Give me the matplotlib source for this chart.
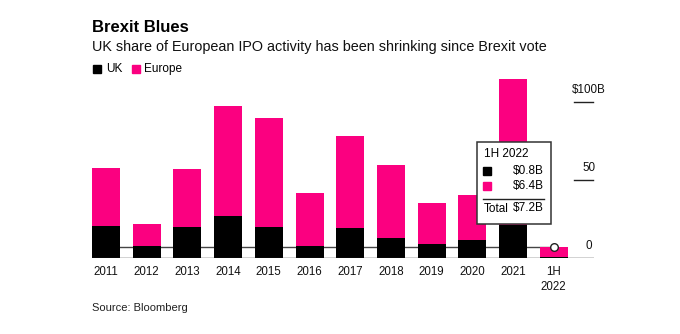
import numpy as np
from matplotlib import pyplot as pl
from matplotlib.patches import Rectangle
import matplotlib

matplotlib.rcParams.update({'font.family': ['Liberation Sans', 'DejaVu Sans']})

# data (billions of dollars)
labels = ['2011', '2012', '2013', '2014', '2015', '2016', '2017', '2018',
          '2019', '2020', '2021', '1H\n2022']
uk = [20.5, 7.5, 20, 27, 20, 7.5, 19.5, 13, 9, 11.5, 21, 0.8]
europe = [37.5, 14.5, 37, 70.5, 69.5, 34, 58.5, 46.5, 26.5, 29, 94, 6.4]
yticks = [0, 50, 100]
ytickLabels = ['0', '50', '$100B']

pink = '#fb0080'
black = '#000000'
W, H = 680, 334

def fx(px):
  return px / W

def fy(py):
  return 1 - py / H

fig = pl.figure(figsize=(6.8, 3.34), dpi=100)
ax = fig.add_axes([fx(92), fy(258), fx(594) - fx(92), fy(75) - fy(258)])

xs = np.arange(len(labels))
width = 0.688
uk = np.array(uk)
europe = np.array(europe)
total = uk + europe

ax.bar(xs, uk, width=width, color=black, zorder=3)
ax.bar(xs, europe, width=width, bottom=uk, color=pink, zorder=3)

# reference line at latest total
last = len(labels) - 1
ax.plot([-0.344, xs[last]], [total[last], total[last]], color='#444444', lw=1, zorder=2)
ax.plot([xs[last]], [total[last]], 'o', ms=5.5, mfc='white', mec='#222222', mew=1, zorder=5)

ax.set_xlim(-0.344, 11.99)
ax.set_ylim(0, 117.3)
ax.axhline(0, color='#222222', lw=1, zorder=4)

# right-hand tick marks and labels
for v, lab in zip(yticks, ytickLabels):
  if v > 0:
    ax.plot([11.5, 11.97], [v, v], color='#222222', lw=1, clip_on=False)
  ax.annotate(lab, xy=(11.86, v), xytext=(0, 4.5), textcoords='offset points',
              ha='center', va='bottom', fontsize=8.4, color='#111111', annotation_clip=False)

for s in ax.spines.values():
  s.set_visible(False)
ax.set_yticks([])
ax.set_xticks(xs)
ax.set_xticklabels(labels, fontsize=8.3, color='#111111', linespacing=1.3)
ax.tick_params(axis='x', length=0, pad=6)

# titles and legend
fig.text(fx(92), fy(27), 'Brexit Blues', fontsize=12, fontweight='bold', va='center', ha='left')
fig.text(fx(92), fy(47), 'UK share of European IPO activity has been shrinking since Brexit vote',
         fontsize=10.4, va='center', ha='left', color='#111111')
fig.patches.append(Rectangle((fx(93), fy(73)), fx(8), 8 / H, color=black, transform=fig.transFigure))
fig.text(fx(106), fy(69), 'UK', fontsize=8.5, va='center', ha='left')
fig.patches.append(Rectangle((fx(132), fy(73)), fx(8), 8 / H, color=pink, transform=fig.transFigure))
fig.text(fx(144), fy(69), 'Europe', fontsize=8.5, va='center', ha='left')
fig.text(fx(92), fy(308), 'Source: Bloomberg', fontsize=8, va='center', ha='left', color='#222222')

# tooltip box
fig.patches.append(Rectangle((fx(477), fy(224)), fx(74), 82 / H, facecolor='white',
                             edgecolor='#333333', lw=1.1, transform=fig.transFigure, zorder=6))
fig.text(fx(484), fy(154), '1H 2022', fontsize=8.5, va='center', ha='left', zorder=7)
fig.patches.append(Rectangle((fx(483), fy(175)), fx(8.5), 8.5 / H, color=black,
                             transform=fig.transFigure, zorder=7))
fig.text(fx(544), fy(171), '$%.1fB' % uk[last], fontsize=8.5, va='center', ha='right', zorder=7)
fig.patches.append(Rectangle((fx(483), fy(190)), fx(8.5), 8.5 / H, color=pink,
                             transform=fig.transFigure, zorder=7))
fig.text(fx(544), fy(186), '$%.1fB' % europe[last], fontsize=8.5, va='center', ha='right', zorder=7)
fig.add_artist(pl.Line2D([fx(483), fx(544)], [fy(199), fy(199)], color='#222222', lw=1,
                         transform=fig.transFigure, zorder=7))
fig.text(fx(484), fy(208.5), 'Total', fontsize=8.5, va='center', ha='left', zorder=7)
fig.text(fx(544), fy(208.5), '$%.1fB' % total[last], fontsize=8.5, va='center', ha='right', zorder=7)

fig.savefig('out.png', dpi=100)
